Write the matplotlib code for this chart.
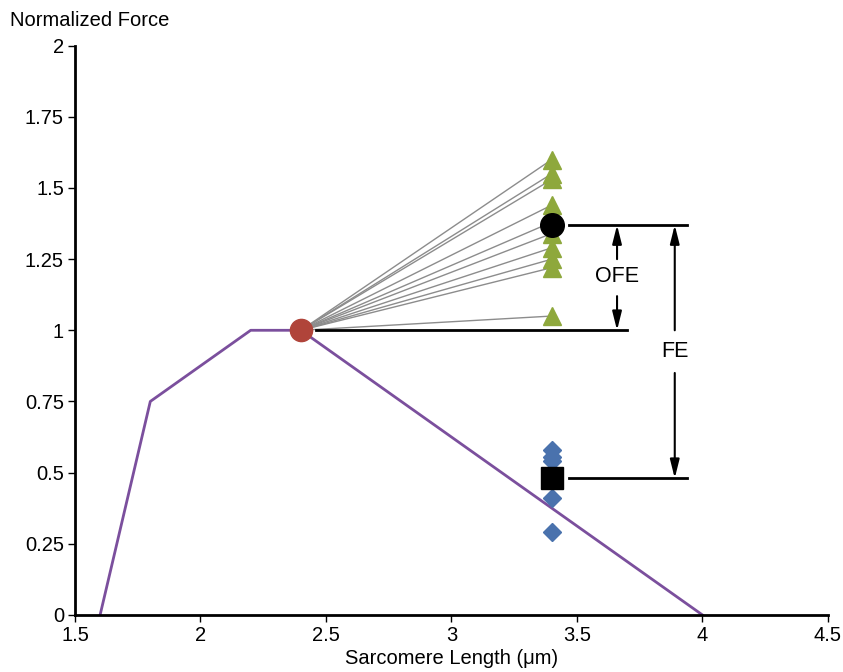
import matplotlib
matplotlib.use('Agg')
import matplotlib.pyplot as plt
import matplotlib.ticker as ticker

plt.rcParams['font.family'] = ['Liberation Sans', 'DejaVu Sans']

# force-length curve
fl_x = [1.6, 1.8, 2.2, 2.4, 4.0]
fl_y = [0, 0.75, 1.0, 1.0, 0]

# reference point before stretch
ref_x = 2.4
ref_y = 1.0

# stretched sarcomere length
stretch_x = 3.4
tri_y = [1.05, 1.22, 1.25, 1.29, 1.34, 1.38, 1.44, 1.53, 1.55, 1.60]
dia_y = [0.29, 0.41, 0.47, 0.50, 0.54, 0.555, 0.58]
mean_tri = 1.37
mean_dia = 0.48

fig = plt.figure(figsize=(8.43, 6.72), dpi=100)
ax = fig.add_axes([0.089, 0.085, 0.893, 0.847])

for y in tri_y:
    ax.plot([ref_x, stretch_x], [ref_y, y], color='#8c8c8c', lw=1, zorder=1)

ax.plot(fl_x, fl_y, color='#7b4f9d', lw=2, zorder=2)
ax.plot([stretch_x] * len(tri_y), tri_y, ls='none', marker='^', ms=13,
        color='#8ea83c', zorder=3)
ax.plot([stretch_x] * len(dia_y), dia_y, ls='none', marker='D', ms=9,
        color='#4a72ad', zorder=3)
ax.plot([ref_x], [ref_y], ls='none', marker='o', ms=16, color='#b0443a', zorder=4)
ax.plot([stretch_x], [mean_tri], ls='none', marker='o', ms=17, color='black', zorder=4)
ax.plot([stretch_x], [mean_dia], ls='none', marker='s', ms=16, color='black', zorder=4)

# annotation lines
ax.plot([3.47, 3.94], [mean_tri, mean_tri], color='black', lw=2)
ax.plot([2.46, 3.70], [ref_y, ref_y], color='black', lw=2)
ax.plot([3.47, 3.94], [mean_dia, mean_dia], color='black', lw=2)

arr = dict(arrowstyle='-|>,head_width=0.2,head_length=0.8', color='black', lw=1.5,
           mutation_scale=14, shrinkA=0, shrinkB=0)
ofe_x = 3.66
ax.annotate('', xy=(ofe_x, mean_tri), xytext=(ofe_x, 1.25), arrowprops=arr)
ax.annotate('', xy=(ofe_x, ref_y), xytext=(ofe_x, 1.12), arrowprops=arr)
ax.text(ofe_x, 1.19, 'OFE', ha='center', va='center', fontsize=15.5)

fe_x = 3.89
ax.annotate('', xy=(fe_x, mean_tri), xytext=(fe_x, 1.0), arrowprops=arr)
ax.annotate('', xy=(fe_x, mean_dia), xytext=(fe_x, 0.85), arrowprops=arr)
ax.text(fe_x, 0.925, 'FE', ha='center', va='center', fontsize=15.5)

ax.set_xlim(1.5, 4.5)
ax.set_ylim(0, 2)
ax.set_xticks([1.5, 2, 2.5, 3, 3.5, 4, 4.5])
ax.set_yticks([0, 0.25, 0.5, 0.75, 1, 1.25, 1.5, 1.75, 2])
ax.xaxis.set_major_formatter(ticker.FormatStrFormatter('%g'))
ax.yaxis.set_major_formatter(ticker.FormatStrFormatter('%g'))
ax.tick_params(labelsize=14.5, width=1, length=5, pad=3)
for s in ['top', 'right']:
    ax.spines[s].set_visible(False)
for s in ['left', 'bottom']:
    ax.spines[s].set_linewidth(2)

fig.text(10 / 843, 1 - 21 / 672, 'Normalized Force', fontsize=14.5, va='center', ha='left')
ax.set_xlabel('Sarcomere Length (\u03bcm)', fontsize=14.5, labelpad=3)

fig.savefig('out.png', dpi=100)
